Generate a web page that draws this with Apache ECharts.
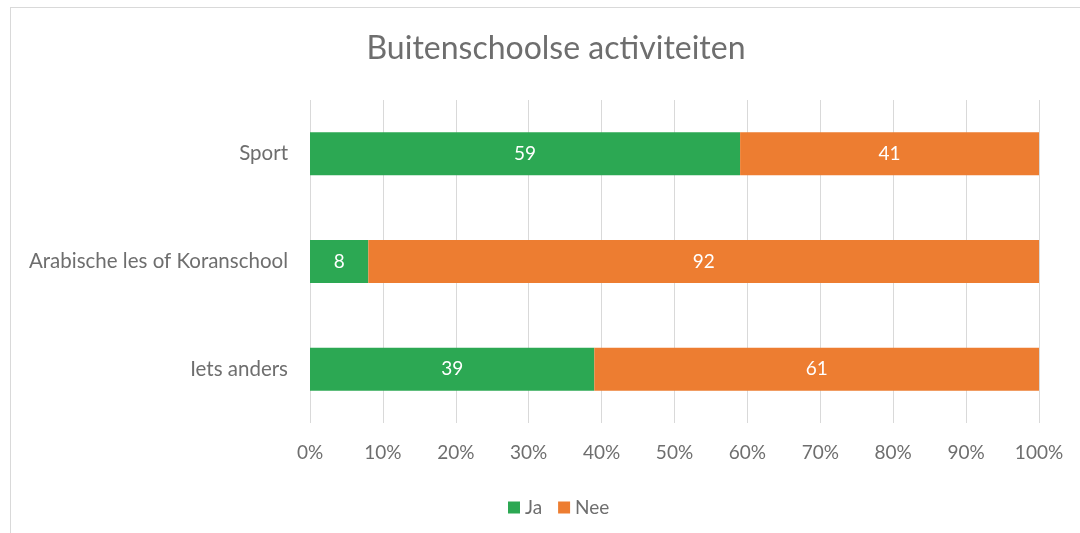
<!DOCTYPE html>
<html>
<head>
<meta charset="utf-8">
<script src="https://cdn.jsdelivr.net/npm/echarts@6/dist/echarts.min.js"></script>
<style>
  html, body { margin: 0; padding: 0; background: #fff; }
  #frame { position: absolute; left: 10px; top: 7px; width: 1100px; height: 560px; border: 1px solid #d9d9d9; }
  #chart { position: absolute; left: 0; top: 0; width: 1080px; height: 533px; }
</style>
</head>
<body>
<div id="frame"></div>
<div id="chart"></div>
<script>
const categories = ["Iets anders", "Arabische les of Koranschool", "Sport"];
const jaValues = [39, 8, 59];
const neeValues = [61, 92, 41];

const chart = echarts.init(document.getElementById("chart"));
const font = "Lato, 'Open Sans', sans-serif";
const textColor = "#6e6e6e";

const options = {
  animation: false,
  title: {
    text: "Buitenschoolse activiteiten",
    left: 551,
    top: 28,
    textAlign: "center",
    textStyle: { color: textColor, fontSize: 32, fontWeight: "normal", fontFamily: font },
  },
  legend: {
    data: ["Ja", "Nee"],
    top: 493,
    left: 503,
    itemWidth: 12,
    itemHeight: 12,
    itemGap: 16,
    icon: "rect",
    textStyle: { color: textColor, fontSize: 19, fontFamily: font },
  },
  grid: { left: 310, right: 41, top: 100, bottom: 110 },
  xAxis: {
    type: "value",
    min: 0,
    max: 100,
    interval: 10,
    axisLine: { show: false },
    axisTick: { show: false },
    splitLine: { lineStyle: { color: "#d9d9d9", width: 1 } },
    axisLabel: {
      margin: 20,
      color: textColor,
      fontSize: 19,
      fontFamily: font,
      formatter: (v) => v + "%",
    },
  },
  yAxis: {
    type: "category",
    data: categories,
    axisLine: { show: false },
    axisTick: { show: false },
    axisLabel: { margin: 22, color: textColor, fontSize: 20.5, fontFamily: font },
  },
  series: [
    {
      name: "Ja",
      type: "bar",
      stack: "total",
      data: jaValues,
      barWidth: 43,
      itemStyle: { color: "#2CA853" },
      label: { show: true, position: "inside", color: "#fff", fontSize: 19, fontFamily: font },
    },
    {
      name: "Nee",
      type: "bar",
      stack: "total",
      data: neeValues,
      barWidth: 43,
      itemStyle: { color: "#ED7D31" },
      label: { show: true, position: "inside", color: "#fff", fontSize: 19, fontFamily: font },
    },
  ],
};

chart.setOption(options);
</script>
</body>
</html>
